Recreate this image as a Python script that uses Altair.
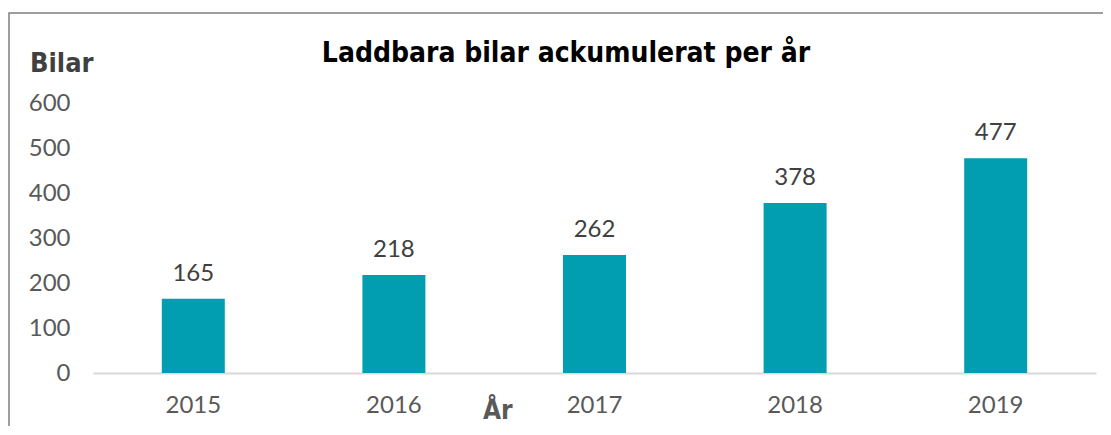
import altair as alt
import pandas as pd

years = ["2015", "2016", "2017", "2018", "2019"]
cars = [165, 218, 262, 378, 477]
title_text = "Laddbara bilar ackumulerat per år"
y_title = "Bilar"
x_title = "År"
y_ticks = [0, 100, 200, 300, 400, 500, 600]

df = pd.DataFrame({"year": years, "cars": cars})

TEAL = "#009EB0"
LABEL_FONT = "Lato"
HEAD_FONT = "DejaVu Sans Condensed"

base = alt.Chart(df)

x_enc = alt.X(
    "year:N",
    sort=years,
    scale=alt.Scale(paddingInner=0.686, paddingOuter=0.343),
    axis=alt.Axis(
        title=None,
        labelAngle=0,
        labelFont=LABEL_FONT,
        labelFontSize=24,
        labelColor="#595959",
        labelPadding=20,
        ticks=False,
        domainColor="#D9D9D9",
        domainWidth=2,
        grid=False,
    ),
)
y_enc = alt.Y(
    "cars:Q",
    scale=alt.Scale(domain=[0, 600], nice=False),
    axis=alt.Axis(
        title=None,
        values=y_ticks,
        labelFont=LABEL_FONT,
        labelFontSize=24,
        labelColor="#595959",
        labelPadding=23,
        ticks=False,
        domain=False,
        grid=False,
    ),
)

bars = base.mark_bar(color=TEAL).encode(x=x_enc, y=y_enc)

labels = base.mark_text(
    font=LABEL_FONT, fontSize=24, color="#404040", baseline="alphabetic", dy=-18
).encode(x=alt.X("year:N", sort=years), y="cars:Q", text="cars:Q")

one = pd.DataFrame({"t": [title_text], "b": [y_title], "a": [x_title]})

title = alt.Chart(one).mark_text(
    font=HEAD_FONT, fontWeight="bold", fontSize=28, color="#000000",
    align="center", baseline="alphabetic",
).encode(x=alt.value(473), y=alt.value(-41), text="t:N")

ylab = alt.Chart(one).mark_text(
    font=HEAD_FONT, fontWeight="bold", fontSize=27, color="#404040",
    align="left", baseline="alphabetic",
).encode(x=alt.value(-63), y=alt.value(-31), text="b:N")

xlab = alt.Chart(one).mark_text(
    font=HEAD_FONT, fontWeight="bold", fontSize=26, color="#595959",
    align="left", baseline="alphabetic",
).encode(x=alt.value(390), y=alt.value(316), text="a:N")

border = alt.Chart(one).mark_rect(
    fill=None, fillOpacity=0, stroke="#7F7F7F", strokeWidth=1.5
).encode(x=alt.value(-84), x2=alt.value(1100), y=alt.value(-90), y2=alt.value(400))

chart = alt.layer(border, bars, labels, title, ylab, xlab).properties(
    width=1003,
    height=270,
    autosize=alt.AutoSizeParams(type="none"),
    padding={"left": 85, "top": 95, "right": 7, "bottom": 53},
).configure(background="white").configure_view(strokeWidth=0)

chart.save("out.html", embed_options={"renderer": "svg", "actions": False})
